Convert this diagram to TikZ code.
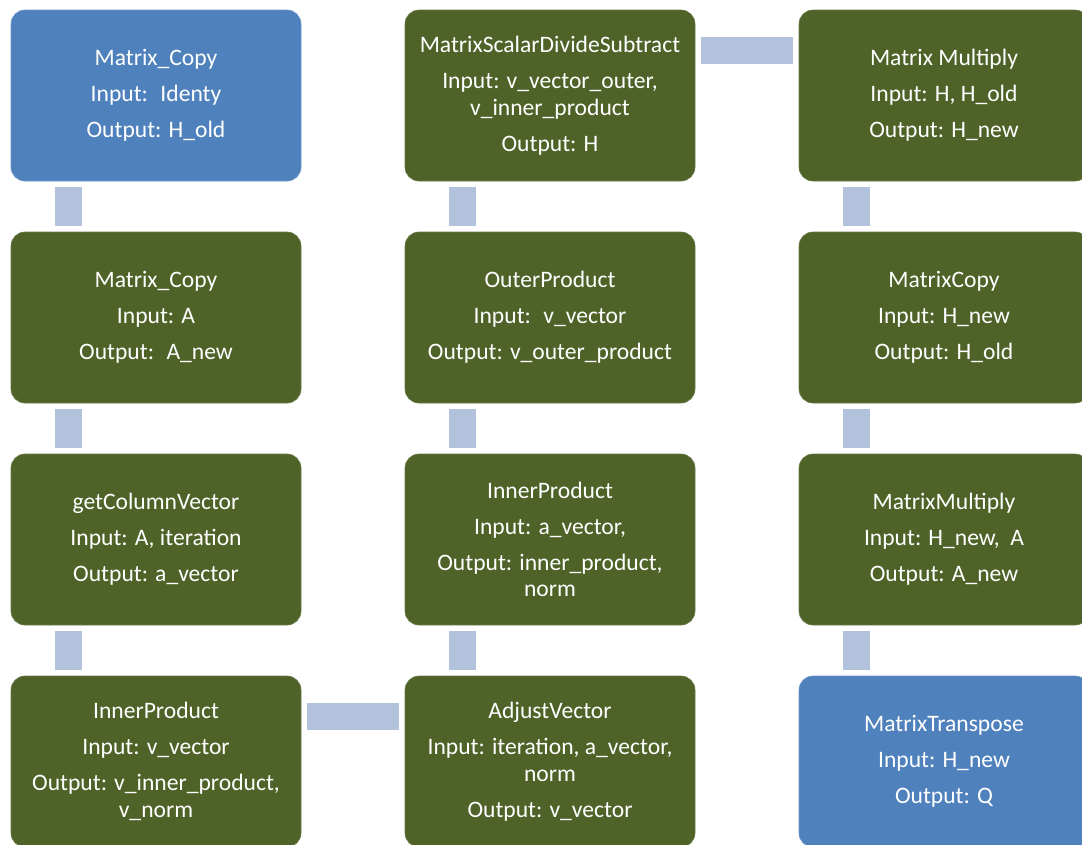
\documentclass[tikz,border=0pt]{standalone}
\usepackage{fontspec}
\setmainfont{Carlito}
\usetikzlibrary{calc}
\definecolor{bblue}{HTML}{4F81BD}
\definecolor{bgreen}{HTML}{4F6228}
\definecolor{conncol}{HTML}{B3C2DC}
\tikzset{
  box/.style={rounded corners=14pt, minimum width=290pt, minimum height=171pt,
    inner sep=0pt, text=white, align=center,
    font=\fontsize{23.6}{26.5}\selectfont, fill=#1, draw=#1!85!white, line width=0.6pt},
  conn/.style={fill=conncol, draw=none}
}
\begin{document}
\begin{tikzpicture}[x=1pt,y=-1pt]
\useasboundingbox (0,0) rectangle (1082,844);
\clip (0,0) rectangle (1082,844);
% column 1
\node[box=bblue] (a1) at (156,95.5) {Matrix\_Copy\\[9.5pt]Input:~ Identy\\[9.5pt]Output: H\_old};
\node[box=bgreen] (a2) at (156,317.5) {Matrix\_Copy\\[9.5pt]Input: A\\[9.5pt]Output:~ A\_new};
\node[box=bgreen] (a3) at (156,539.5) {getColumnVector\\[9.5pt]Input: A, iteration\\[9.5pt]Output: a\_vector};
\node[box=bgreen] (a4) at (156,761.5) {InnerProduct\\[9.5pt]Input: v\_vector\\[9.5pt]Output: v\_inner\_product,\\v\_norm};
% column 2
\node[box=bgreen] (b1) at (550,95.5) {MatrixScalarDivideSubtract\\[9.5pt]Input: v\_vector\_outer,\\v\_inner\_product\\[9.5pt]Output: H};
\node[box=bgreen] (b2) at (550,317.5) {OuterProduct\\[9.5pt]Input:~ v\_vector\\[9.5pt]Output: v\_outer\_product};
\node[box=bgreen] (b3) at (550,539.5) {InnerProduct\\[9.5pt]Input: a\_vector,\\[9.5pt]Output: inner\_product,\\norm};
\node[box=bgreen] (b4) at (550,761.5) {AdjustVector\\[9.5pt]Input: iteration, a\_vector,\\norm\\[9.5pt]Output: v\_vector};
% column 3
\node[box=bgreen] (c1) at (944,95.5) {Matrix Multiply\\[9.5pt]Input: H, H\_old\\[9.5pt]Output: H\_new};
\node[box=bgreen] (c2) at (944,317.5) {MatrixCopy\\[9.5pt]Input: H\_new\\[9.5pt]Output: H\_old};
\node[box=bgreen] (c3) at (944,539.5) {MatrixMultiply\\[9.5pt]Input: H\_new,~ A\\[9.5pt]Output: A\_new};
\node[box=bblue] (c4) at (944,761.5) {MatrixTranspose\\[9.5pt]Input: H\_new\\[9.5pt]Output: Q};
% vertical connectors (upper box / lower box)
\foreach \u/\l in {a1/a2,a2/a3,a3/a4,b1/b2,b2/b3,b3/b4,c1/c2,c2/c3,c3/c4}{
  \fill[conn] ($(\u.south west)+(44,6)$) rectangle ($(\l.north west)+(71,-6)$);
}
% horizontal connectors
\fill[conn] ($(a4.north east)+(6,27)$) rectangle ($(b4.north west)+(-6,54)$);
\fill[conn] ($(b1.north east)+(6,27)$) rectangle ($(c1.north west)+(-6,54)$);
\end{tikzpicture}
\end{document}
